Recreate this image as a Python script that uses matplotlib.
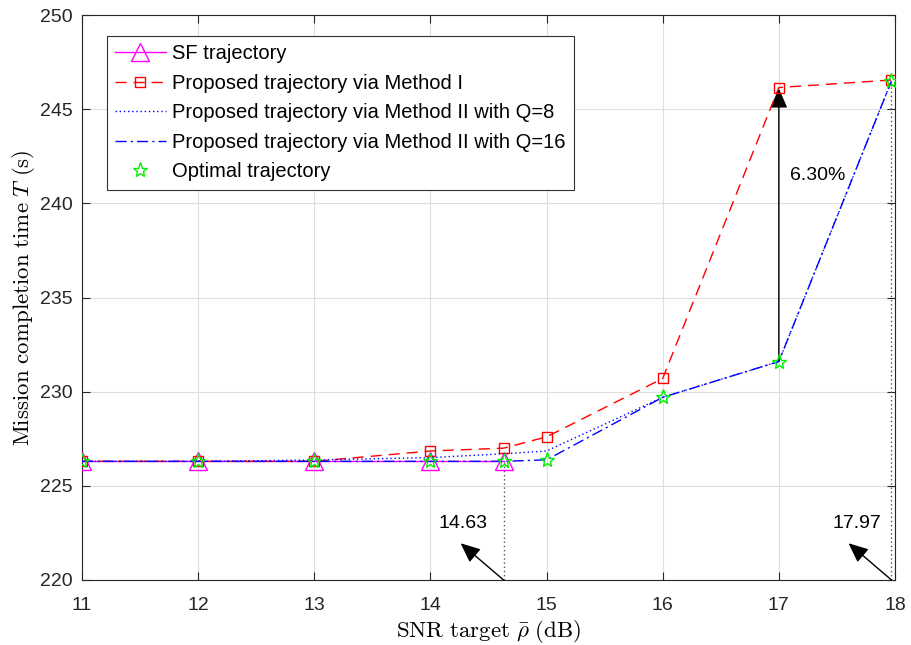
import matplotlib
matplotlib.use("Agg")
import matplotlib.pyplot as plt

plt.rcParams['font.family'] = ['Liberation Sans', 'DejaVu Sans']
plt.rcParams['mathtext.fontset'] = 'cm'

# Data
x_sf = [11, 12, 13, 14, 14.63]
y_sf = [226.3, 226.3, 226.3, 226.3, 226.3]

x_all = [11, 12, 13, 14, 14.63, 15, 16, 17, 17.97]
y_m1 = [226.3, 226.3, 226.3, 226.85, 227.0, 227.6, 230.7, 246.15, 246.55]
y_q8 = [226.3, 226.3, 226.37, 226.5, 226.7, 226.85, 229.7, 231.6, 246.5]
y_q16 = [226.3, 226.3, 226.3, 226.3, 226.3, 226.38, 229.7, 231.6, 246.5]
y_opt = [226.3, 226.3, 226.3, 226.3, 226.3, 226.38, 229.7, 231.6, 246.5]

xticks = [11, 12, 13, 14, 15, 16, 17, 18]
yticks = [220, 225, 230, 235, 240, 245, 250]

fig = plt.figure(figsize=(9.11, 6.45), dpi=100)
ax = fig.add_axes([0.09, 0.1008, 0.8924, 0.8759])

ax.plot(x_sf, y_sf, color='magenta', lw=1, marker='^', ms=13, mfc='none', mew=1,
        label='SF trajectory', zorder=3)
ax.plot(x_all, y_m1, color='red', lw=1, ls=(0, (8, 5)), marker='s', ms=7, mfc='none', mew=1,
        label='Proposed trajectory via Method I', zorder=4)
ax.plot(x_all, y_q8, color='blue', lw=1, ls=(0, (1, 2)),
        label='Proposed trajectory via Method II with Q=8', zorder=4)
ax.plot(x_all, y_q16, color='blue', lw=1, ls=(0, (8, 3, 1.5, 3)),
        label='Proposed trajectory via Method II with Q=16', zorder=4)
ax.plot(x_all, y_opt, ls='none', marker='*', ms=11, mfc='none', mec='#00ee00', mew=1,
        label='Optimal trajectory', zorder=5)

# Vertical dotted markers
ax.plot([14.63, 14.63], [220, y_sf[-1]], color='#555555', lw=1, ls=(0, (1, 2)), zorder=2)
ax.plot([17.97, 17.97], [220, y_opt[-1]], color='#555555', lw=1, ls=(0, (1, 2)), zorder=2)

# Annotations
arrow = dict(arrowstyle='-|>,head_length=0.5,head_width=0.22', color='black', lw=1,
             mutation_scale=24, shrinkA=0, shrinkB=0)
ax.annotate('', xy=(14.26, 221.95), xytext=(14.63, 220), arrowprops=arrow)
ax.text(14.28, 223.0, '14.63', fontsize=14, ha='center', va='center')
ax.annotate('', xy=(17.6, 221.95), xytext=(17.97, 220), arrowprops=arrow)
ax.text(17.67, 223.0, '17.97', fontsize=14, ha='center', va='center')
ax.annotate('', xy=(17.0, 246.1), xytext=(17.0, 231.6), arrowprops=arrow)
ax.text(17.1, 241.5, '6.30%', fontsize=14, ha='left', va='center')

ax.set_xlim(11, 18)
ax.set_ylim(220, 250)
ax.set_xticks(xticks)
ax.set_yticks(yticks)
ax.tick_params(direction='in', top=True, right=True, labelsize=14, length=6,
               colors='#262626')
ax.tick_params(axis='x', pad=12)
ax.tick_params(axis='y', pad=7)
for s in ax.spines.values():
    s.set_color('#262626')
ax.grid(True, color='#dedede', lw=0.8)
ax.set_axisbelow(True)

ax.set_xlabel(r'$\mathrm{SNR\ target}\ \bar{\rho}\ \mathrm{(dB)}$', fontsize=16.5, labelpad=3)
ax.set_ylabel(r'$\mathrm{Mission\ completion\ time}\ T\ \mathrm{(s)}$', fontsize=16.5, labelpad=2)

leg = ax.legend(loc='upper left', bbox_to_anchor=(0.0305, 0.963), fontsize=14.5,
                frameon=True, fancybox=False, edgecolor='#333333', framealpha=1,
                handlelength=2.5, handletextpad=0.3, borderpad=0.42, labelspacing=0.52,
                borderaxespad=0)
leg.get_frame().set_linewidth(0.8)

fig.savefig('out.png', dpi=100)
